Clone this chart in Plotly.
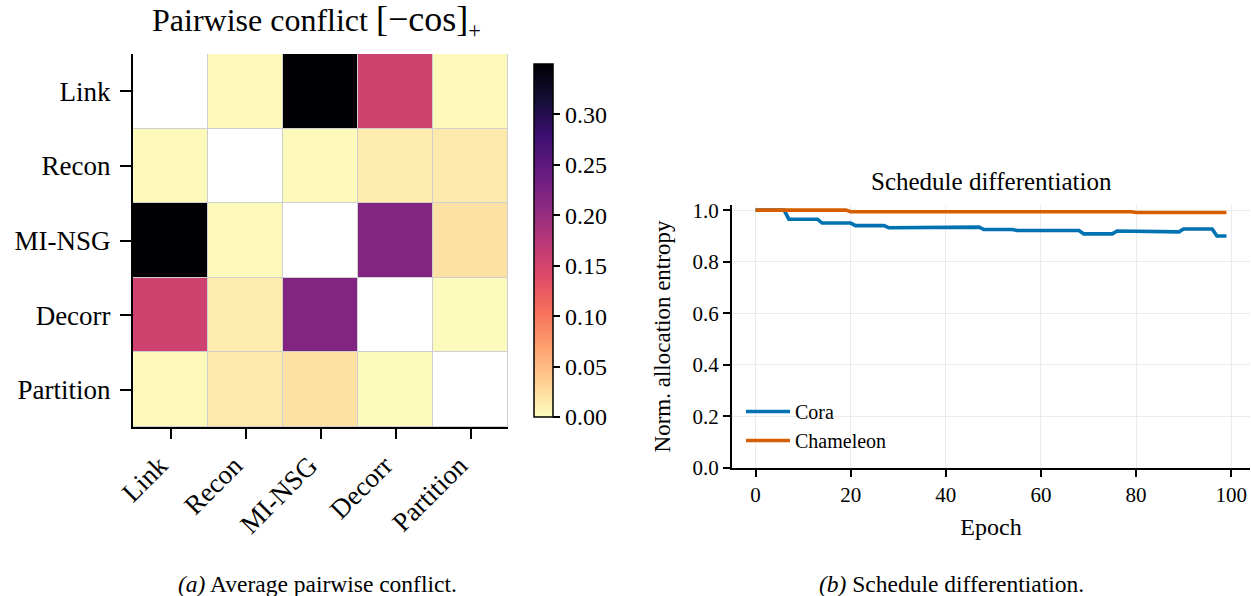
import numpy as np
import plotly.graph_objects as go

# ---------------- data ----------------
tasks = ["Link", "Recon", "MI-NSG", "Decorr", "Partition"]
conflict_link = [np.nan, 0.003, 0.349, 0.154, 0.003]
conflict_recon = [0.003, np.nan, 0.003, 0.013, 0.015]
conflict_minsg = [0.349, 0.003, np.nan, 0.220, 0.022]
conflict_decorr = [0.154, 0.013, 0.220, np.nan, 0.002]
conflict_partition = [0.003, 0.015, 0.022, 0.002, np.nan]
cbar_ticks = [0.00, 0.05, 0.10, 0.15, 0.20, 0.25, 0.30]

epochs = list(range(100))
cora = ([1.0] * 7 + [0.965] * 7 + [0.95] * 7 + [0.94] * 7 + [0.932] * 11 +
        [0.934] * 9 + [0.925] * 7 + [0.921] * 14 + [0.908] * 7 + [0.919] * 7 +
        [0.916] * 7 + [0.927] * 7 + [0.90] * 3)
chameleon = [1.0] * 20 + [0.994] * 20 + [0.997] * 20 + [0.994] * 20 + [0.991] * 20
epoch_ticks = [0, 20, 40, 60, 80, 100]
entropy_ticks = [0.0, 0.2, 0.4, 0.6, 0.8, 1.0]

# ---------------- styling ----------------
W, H = 1251, 596
FONT = "Liberation Serif"
magma = ["#000004", "#140e36", "#3b0f70", "#641a80", "#8c2981", "#b73779",
         "#de4968", "#f7705c", "#fe9f6d", "#fecf92", "#fcfdbf"]
magma_r = [[i / 10, c] for i, c in enumerate(reversed(magma))]

def px_x(p):
    return p / W

def px_y(p):
    return 1 - p / H

Z = [conflict_link, conflict_recon, conflict_minsg, conflict_decorr, conflict_partition]
zarr = np.array(Z, dtype=float)
mask = [[1 if np.isnan(v) else None for v in row] for row in zarr]
zlist = [[None if np.isnan(v) else v for v in row] for row in zarr]

fig = go.Figure()

fig.add_trace(go.Heatmap(
    z=zlist, x=tasks, y=tasks, xaxis="x", yaxis="y",
    colorscale=magma_r, zmin=0, zmax=0.35, xgap=1, ygap=1,
    colorbar=dict(
        x=px_x(524), xanchor="left", y=px_y(427), yanchor="bottom",
        len=373 / H, lenmode="fraction", thickness=19, thicknessmode="pixels",
        outlinewidth=1.5, outlinecolor="black",
        tickvals=cbar_ticks, tickformat=".2f", ticks="outside", ticklen=7,
        tickwidth=2, tickcolor="black",
        tickfont=dict(family=FONT, size=24, color="black"),
    ),
    hoverongaps=False,
))
fig.add_trace(go.Heatmap(
    z=mask, x=tasks, y=tasks, xaxis="x", yaxis="y",
    colorscale=[[0, "white"], [1, "white"]], showscale=False, xgap=1, ygap=1,
))

fig.add_trace(go.Scatter(x=epochs, y=cora, mode="lines", name="Cora",
                         line=dict(color="#0072B2", width=3.6), xaxis="x2", yaxis="y2",
                         legendgroup="a"))
fig.add_trace(go.Scatter(x=epochs, y=chameleon, mode="lines", name="Chameleon",
                         line=dict(color="#D55E00", width=3.6), xaxis="x2", yaxis="y2",
                         legendgroup="b"))

fig.update_layout(
    width=W, height=H, margin=dict(l=0, r=0, t=0, b=0, autoexpand=False),
    paper_bgcolor="white", plot_bgcolor="white",
    font=dict(family=FONT, color="black"),
    showlegend=True,
    legend=dict(x=px_x(741), y=px_y(392), xanchor="left", yanchor="top",
                bgcolor="rgba(0,0,0,0)", font=dict(family=FONT, size=20),
                tracegroupgap=0, itemwidth=44),
    xaxis=dict(domain=[px_x(133), px_x(508)], anchor="y", type="category",
               automargin=False,
               showline=True, linecolor="black", linewidth=2, mirror=False,
               ticks="outside", ticklen=10, tickwidth=2, tickcolor="black",
               tickangle=-45, ticklabelshift=-11, tickfont=dict(family=FONT, size=27),
               showgrid=False, zeroline=False),
    yaxis=dict(domain=[px_y(427), px_y(54)], anchor="x", type="category",
               autorange="reversed", automargin=False,
               showline=True, linecolor="black", linewidth=2,
               ticks="outside", ticklen=11, tickwidth=2, tickcolor="black",
               ticklabelstandoff=4,
               tickfont=dict(family=FONT, size=27),
               showgrid=False, zeroline=False),
    xaxis2=dict(domain=[px_x(732), px_x(1250)], anchor="y2", automargin=False,
                range=[-4.95, 103.95],
                tickvals=epoch_ticks, ticks="outside", ticklen=7, tickwidth=2,
                tickcolor="black", showline=True, linecolor="black", linewidth=2,
                showgrid=True, gridcolor="#ebebeb", gridwidth=1, zeroline=False,
                tickfont=dict(family=FONT, size=21),
                title=dict(text="Epoch", font=dict(family=FONT, size=24), standoff=12)),
    yaxis2=dict(domain=[px_y(468), px_y(205)], anchor="x2", automargin=False,
                range=[0, 1.02],
                tickvals=entropy_ticks, tickformat=".1f", ticks="outside", ticklen=7,
                tickwidth=2, tickcolor="black", showline=True, linecolor="black",
                linewidth=2, showgrid=True, gridcolor="#ebebeb", gridwidth=1,
                zeroline=False, tickfont=dict(family=FONT, size=21),
                title=dict(text="Norm. allocation entropy",
                           font=dict(family=FONT, size=23), standoff=15)),
    shapes=[dict(type="rect", xref="x domain", yref="y domain", x0=0, x1=1, y0=0, y1=1,
                 fillcolor="#cfcfcf", line=dict(width=0), layer="below")],
    annotations=[
        dict(text="Pairwise conflict <span style='font-size:36px'>[\u2212cos]</span><sub>+</sub>",
             x=px_x(316), y=px_y(21),
             xref="paper", yref="paper", showarrow=False, xanchor="center", yanchor="middle",
             font=dict(family=FONT, size=32)),
        dict(text="Schedule differentiation", x=px_x(991), y=px_y(182),
             xref="paper", yref="paper", showarrow=False, xanchor="center", yanchor="middle",
             font=dict(family=FONT, size=25)),
        dict(text="<i>(a)</i> Average pairwise conflict.", x=px_x(318), y=px_y(584),
             xref="paper", yref="paper", showarrow=False, xanchor="center", yanchor="middle",
             font=dict(family=FONT, size=23.5)),
        dict(text="<i>(b)</i> Schedule differentiation.", x=px_x(951), y=px_y(584),
             xref="paper", yref="paper", showarrow=False, xanchor="center", yanchor="middle",
             font=dict(family=FONT, size=23.5)),
    ],
)

fig.write_html("out.html", config={"displayModeBar": False},
               post_script="document.body.style.margin='0px';document.body.style.overflow='hidden';")
